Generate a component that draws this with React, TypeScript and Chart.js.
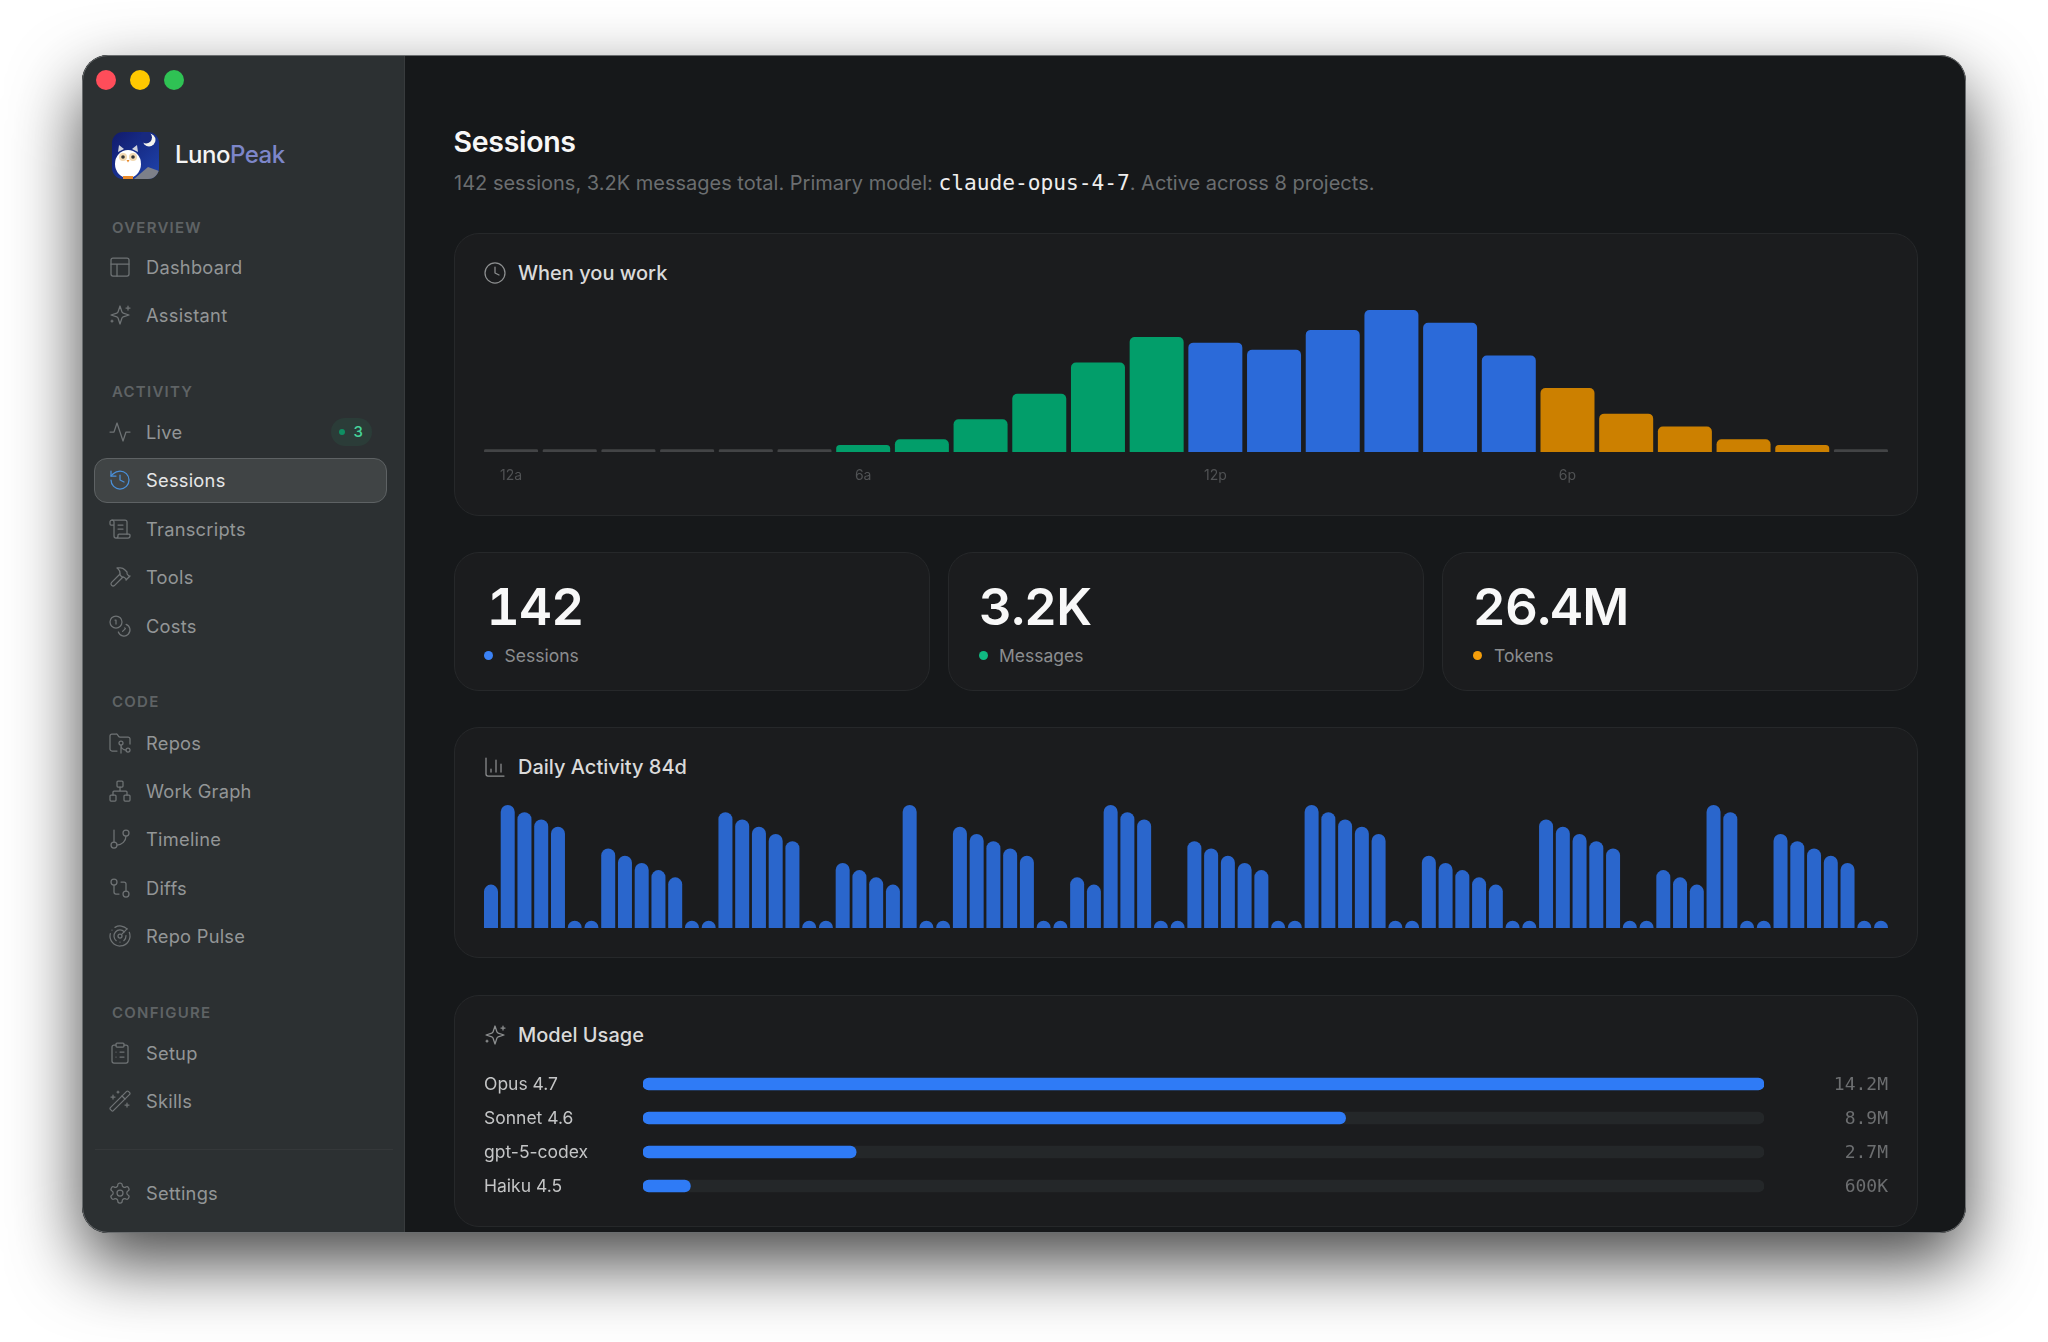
import { useEffect, useRef } from 'react';
import type { ReactNode } from 'react';
import Chart from 'chart.js/auto';

const SANS = 'Inter, "Noto Sans", sans-serif';
const MONO = '"DejaVu Sans Mono", monospace';

// ============= DATA =============
const hourLabels = ['12a', '1a', '2a', '3a', '4a', '5a', '6a', '7a', '8a', '9a', '10a', '11a', '12p', '1p', '2p', '3p', '4p', '5p', '6p', '7p', '8p', '9p', '10p', '11p'];
const hourValues = [2, 2, 2, 2, 2, 2, 5, 9, 23, 41, 63, 81, 77, 72, 86, 100, 91, 68, 45, 27, 18, 9, 5, 2];

const dailyValues = [
    6, 17, 16, 15, 14, 1, 1, 11, 10, 9, 8, 7, 1, 1,
    16, 15, 14, 13, 12, 1, 1, 9, 8, 7, 6, 17, 1, 1,
    14, 13, 12, 11, 10, 1, 1, 7, 6, 17, 16, 15, 1, 1,
    12, 11, 10, 9, 8, 1, 1, 17, 16, 15, 14, 13, 1, 1,
    10, 9, 8, 7, 6, 1, 1, 15, 14, 13, 12, 11, 1, 1,
    8, 7, 6, 17, 16, 1, 1, 13, 12, 11, 10, 9, 1, 1,
];
const dailyLabels = dailyValues.map((_, i) => `Day ${i + 1}`);

const modelNames = ['Opus 4.7', 'Sonnet 4.6', 'gpt-5-codex', 'Haiku 4.5'];
const modelTokens = [14.2, 8.9, 2.7, 0.6];
const modelTotals = ['14.2M', '8.9M', '2.7M', '600K'];
const modelTrack = [14.2, 14.2, 14.2, 14.2];

const stats = [
    { value: '142', label: 'Sessions', color: '#3b82f6', x: 454, numX: 486.8, dotX: 488.5, textX: 504.5 },
    { value: '3.2K', label: 'Messages', color: '#10b981', x: 948, numX: 979, dotX: 983, textX: 999 },
    { value: '26.4M', label: 'Tokens', color: '#f59e0b', x: 1442, numX: 1472.8, dotX: 1477, textX: 1494 },
];

// ============= ICONS =============
const icons: Record<string, ReactNode> = {
    dashboard: <><rect x="3" y="3" width="18" height="18" rx="2" /><path d="M3 9h18M9 21V9" /></>,
    sparkles: <><path d="M12 3l1.9 5.8a2 2 0 0 0 1.3 1.3L21 12l-5.8 1.9a2 2 0 0 0-1.3 1.3L12 21l-1.9-5.8a2 2 0 0 0-1.3-1.3L3 12l5.8-1.9a2 2 0 0 0 1.3-1.3L12 3Z" /><path d="M20 3v4M22 5h-4M4 17v2M5 18H3" /></>,
    live: <path d="M22 12h-4l-3 9L9 3l-3 9H2" />,
    history: <><path d="M3 12a9 9 0 1 0 9-9 9.75 9.75 0 0 0-6.74 2.74L3 8" /><path d="M3 3v5h5M12 7v5l4 2" /></>,
    scroll: <><path d="M15 12h-5M15 8h-5M19 17V5a2 2 0 0 0-2-2H4" /><path d="M8 21h12a2 2 0 0 0 2-2v-1a1 1 0 0 0-1-1H11a1 1 0 0 0-1 1v1a2 2 0 1 1-4 0V5a2 2 0 1 0-4 0v2a1 1 0 0 0 1 1h3" /></>,
    hammer: <><path d="m15 12-8.373 8.373a1 1 0 1 1-3-3L12 9M18 15l4-4" /><path d="m21.5 11.5-1.914-1.914A2 2 0 0 1 19 8.172V7l-2.26-2.26a6 6 0 0 0-4.202-1.756L9 2.96l.92.82A6.18 6.18 0 0 1 12 8.4V10l2 2h1.172a2 2 0 0 1 1.414.586L18.5 14.5" /></>,
    coins: <><circle cx="8" cy="8" r="6" /><path d="M18.09 10.37A6 6 0 1 1 10.34 18M7 6h1v4M16.71 13.88l.7.71-2.82 2.82" /></>,
    folder: <><path d="M9 20H4a2 2 0 0 1-2-2V5a2 2 0 0 1 2-2h3.9a2 2 0 0 1 1.69.9l.81 1.2a2 2 0 0 0 1.67.9H20a2 2 0 0 1 2 2v5" /><circle cx="13" cy="12" r="2" /><path d="M18 19c-2.8 0-5-2.2-5-5v8" /><circle cx="20" cy="19" r="2" /></>,
    network: <><rect x="16" y="16" width="6" height="6" rx="1" /><rect x="2" y="16" width="6" height="6" rx="1" /><rect x="9" y="2" width="6" height="6" rx="1" /><path d="M5 16v-3a1 1 0 0 1 1-1h12a1 1 0 0 1 1 1v3M12 12V8" /></>,
    branch: <><path d="M6 3v12" /><circle cx="18" cy="6" r="3" /><circle cx="6" cy="18" r="3" /><path d="M18 9a9 9 0 0 1-9 9" /></>,
    diff: <><circle cx="18" cy="18" r="3" /><circle cx="6" cy="6" r="3" /><path d="M13 6h3a2 2 0 0 1 2 2v7M11 18H8a2 2 0 0 1-2-2V9" /></>,
    radar: <><path d="M19.07 4.93A10 10 0 0 0 6.99 3.34M4 6h.01M2.29 9.62A10 10 0 1 0 21.31 8.35M16.24 7.76A6 6 0 1 0 8.23 16.67M12 18h.01M17.99 11.66A6 6 0 0 1 15.77 16.67" /><circle cx="12" cy="12" r="2" /><path d="m13.41 10.59 5.66-5.66" /></>,
    clipboard: <><rect x="8" y="2" width="8" height="4" rx="1" /><path d="M16 4h2a2 2 0 0 1 2 2v14a2 2 0 0 1-2 2H6a2 2 0 0 1-2-2V6a2 2 0 0 1 2-2h2M12 11h4M12 16h4M8 11h.01M8 16h.01" /></>,
    wand: <><path d="m21.64 3.64-1.28-1.28a1.21 1.21 0 0 0-1.72 0L2.36 18.64a1.21 1.21 0 0 0 0 1.72l1.28 1.28a1.2 1.2 0 0 0 1.72 0L21.64 5.36a1.2 1.2 0 0 0 0-1.72" /><path d="m14 7 3 3M5 6v4M19 14v4M10 2v2M7 8H3M21 16h-4M11 3H9" /></>,
    settings: <><path d="M12.22 2h-.44a2 2 0 0 0-2 2v.18a2 2 0 0 1-1 1.73l-.43.25a2 2 0 0 1-2 0l-.15-.08a2 2 0 0 0-2.73.73l-.22.38a2 2 0 0 0 .73 2.73l.15.1a2 2 0 0 1 1 1.72v.51a2 2 0 0 1-1 1.74l-.15.09a2 2 0 0 0-.73 2.73l.22.38a2 2 0 0 0 2.73.73l.15-.08a2 2 0 0 1 2 0l.43.25a2 2 0 0 1 1 1.73V20a2 2 0 0 0 2 2h.44a2 2 0 0 0 2-2v-.18a2 2 0 0 1 1-1.73l.43-.25a2 2 0 0 1 2 0l.15.08a2 2 0 0 0 2.73-.73l.22-.39a2 2 0 0 0-.73-2.73l-.15-.08a2 2 0 0 1-1-1.74v-.5a2 2 0 0 1 1-1.74l.15-.09a2 2 0 0 0 .73-2.73l-.22-.38a2 2 0 0 0-2.73-.73l-.15.08a2 2 0 0 1-2 0l-.43-.25a2 2 0 0 1-1-1.73V4a2 2 0 0 0-2-2z" /><circle cx="12" cy="12" r="3" /></>,
    clock: <><circle cx="12" cy="12" r="10" /><path d="M12 6v6l4 2" /></>,
    bars: <path d="M3 3v16a2 2 0 0 0 2 2h16M18 17V9M13 17V5M8 17v-3" />,
};

// ============= SIDEBAR =============
const sectionLabels = [
    { text: 'OVERVIEW', y: 227.5 },
    { text: 'ACTIVITY', y: 392 },
    { text: 'CODE', y: 702 },
    { text: 'CONFIGURE', y: 1013 },
];
const navItems = [
    { text: 'Dashboard', icon: 'dashboard', y: 267 },
    { text: 'Assistant', icon: 'sparkles', y: 315 },
    { text: 'Live', icon: 'live', y: 432 },
    { text: 'Sessions', icon: 'history', y: 480 },
    { text: 'Transcripts', icon: 'scroll', y: 529 },
    { text: 'Tools', icon: 'hammer', y: 577 },
    { text: 'Costs', icon: 'coins', y: 626 },
    { text: 'Repos', icon: 'folder', y: 743 },
    { text: 'Work Graph', icon: 'network', y: 791 },
    { text: 'Timeline', icon: 'branch', y: 839 },
    { text: 'Diffs', icon: 'diff', y: 888 },
    { text: 'Repo Pulse', icon: 'radar', y: 936 },
    { text: 'Setup', icon: 'clipboard', y: 1053 },
    { text: 'Skills', icon: 'wand', y: 1101 },
    { text: 'Settings', icon: 'settings', y: 1193 },
];

// ============= HELPERS =============
interface TextProps {
    x: number;
    y: number;
    size: number;
    color: string;
    weight?: number;
    spacing?: number;
    font?: string;
    features?: string;
    children: ReactNode;
}

const Text = ({ x, y, size, color, weight = 400, spacing = 0, font = SANS, features, children }: TextProps) => (
    <div style={{ position: 'absolute', left: x, top: y - 20, height: 40, lineHeight: '40px', fontSize: size, color, fontWeight: weight, letterSpacing: spacing, fontFamily: font, fontFeatureSettings: features, whiteSpace: 'pre' }}>
        {children}
    </div>
);

const Icon = ({ name, cx, cy, color, size = 24, stroke = 1.25 }: { name: string; cx: number; cy: number; color: string; size?: number; stroke?: number }) => (
    <svg viewBox="0 0 24 24" width={size} height={size} fill="none" stroke={color} strokeWidth={stroke} strokeLinecap="round" strokeLinejoin="round"
        style={{ position: 'absolute', left: cx - size / 2, top: cy - size / 2 }}>
        {icons[name]}
    </svg>
);

const Box = ({ x, y, w, h }: { x: number; y: number; w: number; h: number }) => (
    <div style={{ position: 'absolute', left: x, top: y, width: w, height: h, boxSizing: 'border-box', background: '#1b1c1e', border: '1.5px solid #26282a', borderRadius: 25 }} />
);

const Logo = () => (
    <svg viewBox="0 0 47 47" width={47} height={47} style={{ position: 'absolute', left: 112, top: 132 }}>
        <defs>
            <linearGradient id="logoBg" x1="0" y1="0" x2="1" y2="1">
                <stop offset="0" stopColor="#111a6b" />
                <stop offset="1" stopColor="#1f44ad" />
            </linearGradient>
            <clipPath id="logoClip"><rect width="47" height="47" rx="11" /></clipPath>
        </defs>
        <g clipPath="url(#logoClip)">
            <rect width="47" height="47" fill="url(#logoBg)" />
            <path d="M22 47 L36 35 L47 39 V47 Z" fill="#7d8089" />
            <circle cx="37" cy="8" r="6.5" fill="#f4f4ee" />
            <circle cx="34" cy="5.5" r="6" fill="#18297f" />
            <path d="M6 20 L7 13 L12 17 Z M26 20 L25 13 L20 17 Z" fill="#cfd2dc" />
            <ellipse cx="16" cy="32" rx="13" ry="14" fill="#ffffff" />
            <circle cx="11" cy="25" r="4" fill="#f3d9b1" />
            <circle cx="21" cy="25" r="4" fill="#f3d9b1" />
            <circle cx="11" cy="25" r="1.8" fill="#333" />
            <circle cx="21" cy="25" r="1.8" fill="#333" />
            <path d="M14.5 28 h3 l-1.5 2.5 Z" fill="#e98a2a" />
            <rect x="11" y="44" width="10" height="3" fill="#e98a2a" />
        </g>
    </svg>
);

// ============= CHART COMPONENTS =============
const useChart = (build: (canvas: HTMLCanvasElement) => Chart) => {
    const ref = useRef<HTMLCanvasElement>(null);
    useEffect(() => {
        if (!ref.current) return;
        const chart = build(ref.current);
        return () => chart.destroy();
    }, []);
    return ref;
};

const hourColor = (hour: number) => {
    if (hour < 6 || hour === 23) return '#434446';
    if (hour < 12) return '#029e6a';
    if (hour < 18) return '#2b6ad9';
    return '#cc8000';
};

const HoursChart = () => {
    const ref = useChart((canvas) => new Chart(canvas, {
        type: 'bar',
        data: {
            labels: hourLabels,
            datasets: [{
                data: hourValues,
                backgroundColor: hourValues.map((_, i) => hourColor(i)),
                borderRadius: 5,
                categoryPercentage: 1,
                barPercentage: 0.92,
            }],
        },
        options: {
            animation: false,
            responsive: false,
            events: [],
            layout: { padding: { left: 1.7, right: 1.7, top: 10 } },
            plugins: { legend: { display: false }, tooltip: { enabled: false } },
            scales: {
                x: {
                    grid: { display: false, drawTicks: false },
                    border: { display: false },
                    afterFit: (s: any) => { s.height = 38; },
                    ticks: {
                        autoSkip: false,
                        maxRotation: 0,
                        padding: 15.5,
                        color: '#505254',
                        font: { family: SANS, size: 14 },
                        callback: (_: any, i: number) => (i % 6 === 0 ? hourLabels[i] : ''),
                    },
                },
                y: { display: false, min: 0, max: 100 },
            },
        },
    }));
    return <canvas ref={ref} width={1412} height={190} style={{ position: 'absolute', left: 480, top: 300 }} />;
};

const DailyChart = () => {
    const ref = useChart((canvas) => new Chart(canvas, {
        type: 'bar',
        data: {
            labels: dailyLabels,
            datasets: [{
                data: dailyValues,
                base: -1,
                backgroundColor: '#2a66cc',
                borderRadius: 7,
                categoryPercentage: 1,
                barPercentage: 0.836,
            }],
        },
        options: {
            animation: false,
            responsive: false,
            events: [],
            layout: { padding: { left: 2.6, right: 2.6, top: 5, bottom: 2 } },
            plugins: { legend: { display: false }, tooltip: { enabled: false } },
            scales: {
                x: { display: false },
                y: { display: false, min: 0, max: 17 },
            },
        },
    }));
    return <canvas ref={ref} width={1412} height={130} style={{ position: 'absolute', left: 480, top: 800 }} />;
};

// tick padding also pads the axis vertically, so zero that out after the fit
const fixAxisWidth = (width: number) => (s: any) => {
    s.width = width;
    s.paddingTop = 0;
    s.paddingBottom = 0;
};

const ModelChart = () => {
    const ref = useChart((canvas) => new Chart(canvas, {
        type: 'bar',
        data: {
            labels: modelNames,
            datasets: [
                { data: modelTokens, backgroundColor: '#2f7bf6', borderRadius: 6, borderSkipped: false, barThickness: 12, grouped: false },
                { data: modelTrack, backgroundColor: '#242729', borderRadius: 6, borderSkipped: false, barThickness: 12, grouped: false },
            ],
        },
        options: {
            indexAxis: 'y',
            animation: false,
            responsive: false,
            events: [],
            plugins: { legend: { display: false }, tooltip: { enabled: false } },
            scales: {
                x: { display: false, min: 0, max: 14.2 },
                y: {
                    grid: { display: false, drawTicks: false },
                    border: { display: false },
                    afterFit: fixAxisWidth(159),
                    ticks: { autoSkip: false, crossAlign: 'far', padding: 55, labelOffset: 1, color: '#c4c5c6', font: { family: SANS, size: 17.5 } },
                },
                y2: {
                    type: 'category',
                    position: 'right',
                    offset: true,
                    labels: modelTotals,
                    grid: { display: false, drawTicks: false },
                    border: { display: false },
                    afterFit: fixAxisWidth(124),
                    ticks: { autoSkip: false, crossAlign: 'far', padding: 69, labelOffset: 1, color: '#6c6e70', font: { family: MONO, size: 18 } },
                },
            },
        },
    }));
    return <canvas ref={ref} width={1404} height={136} style={{ position: 'absolute', left: 484, top: 1067 }} />;
};

// ============= APP =============
export default function App() {
    return (
        <div style={{ position: 'absolute', left: 0, top: 0, width: 2048, height: 1342, overflow: 'hidden', background: '#ffffff', fontFamily: SANS }}>
            {/* window */}
            <div style={{ position: 'absolute', left: 82, top: 55, width: 1884, height: 1178, borderRadius: 26, background: '#16181a', boxShadow: '0 30px 70px rgba(0,0,0,0.72)', overflow: 'hidden' }}>
                <div style={{ position: 'absolute', left: 0, top: 0, width: 323, height: 1178, background: '#2c3032', borderRight: '1px solid #383b3d', boxSizing: 'border-box' }} />
                <div style={{ position: 'absolute', inset: 0, borderRadius: 26, border: '1.5px solid #6a6d6f', boxSizing: 'border-box', pointerEvents: 'none' }} />
            </div>

            {/* traffic lights */}
            {['#ff4d5a', '#ffc800', '#2fc254'].map((c, i) => (
                <div key={c} style={{ position: 'absolute', left: 96 + i * 34, top: 69.5, width: 20, height: 20, borderRadius: 10, background: c }} />
            ))}

            {/* sidebar */}
            <Logo />
            <Text x={175} y={155} size={24} color="#f4f4f4" weight={500} spacing={-0.5}>
                Luno<span style={{ color: '#7d86c9' }}>Peak</span>
            </Text>
            {sectionLabels.map((s) => (
                <Text key={s.text} x={112} y={s.y} size={15} color="#5f6365" weight={600} spacing={1.25}>{s.text}</Text>
            ))}
            <div style={{ position: 'absolute', left: 94, top: 458, width: 293, height: 45, boxSizing: 'border-box', borderRadius: 13, background: '#404445', border: '1.5px solid #5e6264' }} />
            {navItems.map((n) => (
                <div key={n.text}>
                    <Icon name={n.icon} cx={120} cy={n.y} color={n.text === 'Sessions' ? '#4a90d9' : '#6f7375'} />
                    <Text x={146} y={n.y} size={18.3} color={n.text === 'Sessions' ? '#e6e7e7' : '#939697'} spacing={0.25}>{n.text}</Text>
                </div>
            ))}
            <div style={{ position: 'absolute', left: 331, top: 418, width: 41, height: 28, borderRadius: 14, background: '#2b3c38' }} />
            <div style={{ position: 'absolute', left: 339, top: 429, width: 6, height: 6, borderRadius: 3, background: '#0f8f62' }} />
            <Text x={353.5} y={432} size={15} color="#46d39a" weight={500}>3</Text>
            <div style={{ position: 'absolute', left: 95, top: 1149, width: 298, height: 1, background: '#35383a' }} />

            {/* header */}
            <Text x={453.5} y={142} size={28.5} color="#f7f7f7" weight={600} spacing={-0.3}>Sessions</Text>
            <Text x={454} y={183} size={20} color="#6b6e70">
                142 sessions, 3.2K messages total. Primary model: <span style={{ fontFamily: MONO, fontSize: 21.2, color: '#eeeeee', letterSpacing: 0 }}>claude-opus-4-7</span>. Active across 8 projects.
            </Text>

            {/* when you work */}
            <Box x={454} y={233} w={1464} h={283} />
            <Icon name="clock" cx={495} cy={273} color="#8d8f90" />
            <Text x={518} y={273} size={20} color="#dadada" weight={500}>When you work</Text>
            <HoursChart />

            {/* stat cards */}
            {stats.map((s) => (
                <div key={s.label}>
                    <Box x={s.x} y={552} w={476} h={139} />
                    <Text x={s.numX} y={607} size={51} color="#f8f8f8" weight={600} spacing={-0.8} features='"tnum"'>{s.value}</Text>
                    <div style={{ position: 'absolute', left: s.dotX - 4.5, top: 651, width: 9, height: 9, borderRadius: 5, background: s.color }} />
                    <Text x={s.textX} y={656} size={17.5} color="#8b8d8f">{s.label}</Text>
                </div>
            ))}

            {/* daily activity */}
            <Box x={454} y={727} w={1464} h={231} />
            <Icon name="bars" cx={495} cy={767} color="#8d8f90" />
            <Text x={518} y={767} size={20} color="#dadada" weight={500}>Daily Activity 84d</Text>
            <DailyChart />

            {/* model usage */}
            <Box x={454} y={995} w={1464} h={232} />
            <Icon name="sparkles" cx={495} cy={1035} color="#8d8f90" />
            <Text x={518} y={1035} size={20} color="#dadada" weight={500}>Model Usage</Text>
            <ModelChart />
        </div>
    );
}
